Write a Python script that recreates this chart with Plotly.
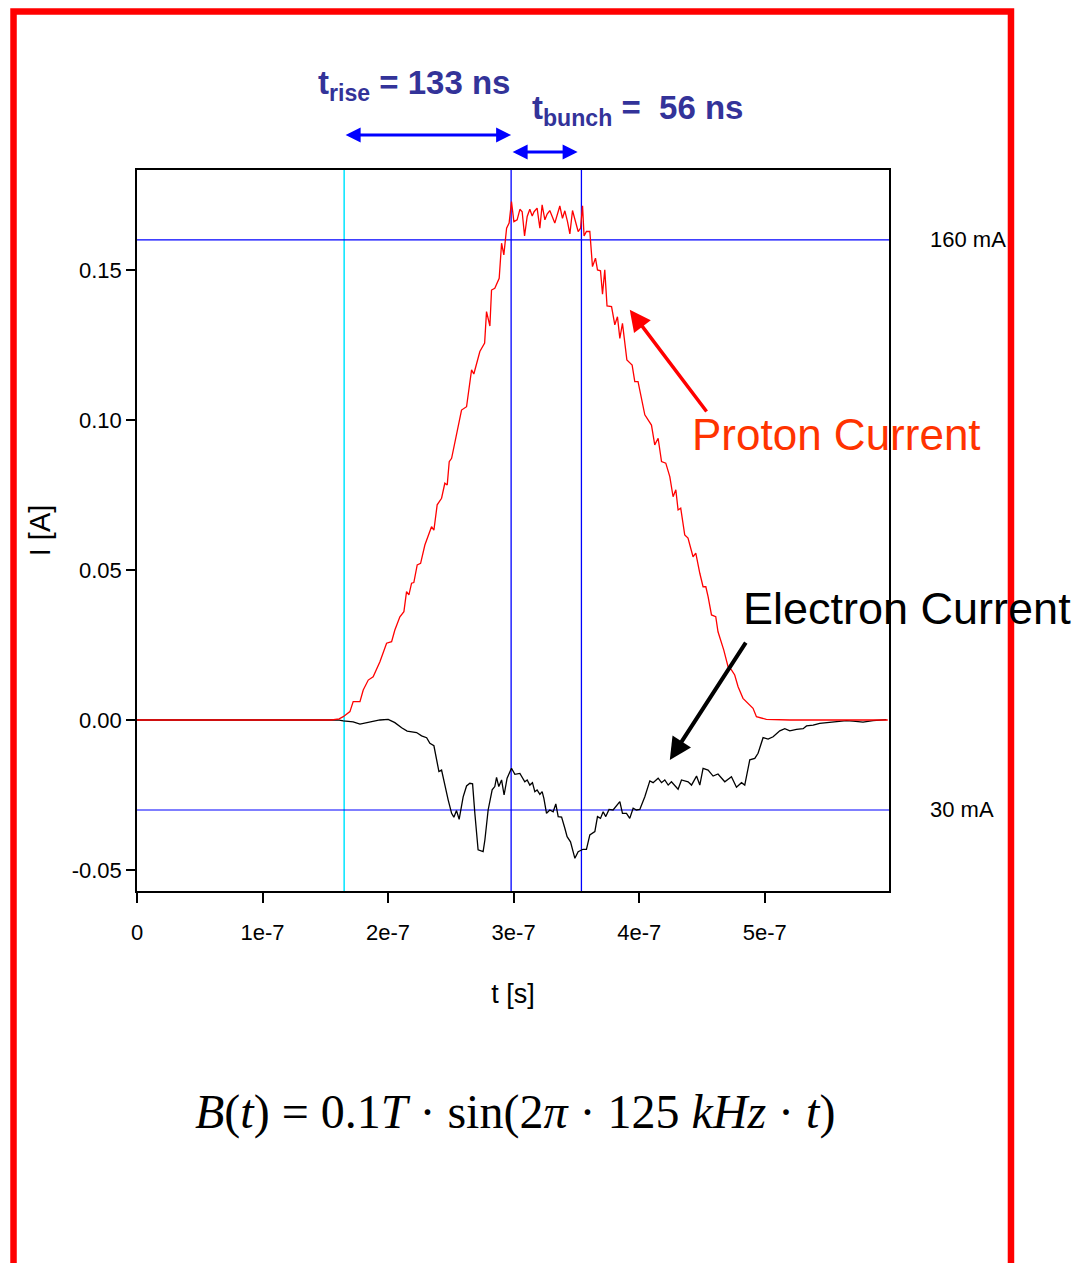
import plotly.graph_objects as go

# ---------------- data (time in ns, current in A) ----------------
proton_t_ns = [0, 155, 161, 164.3, 169.6, 172.2, 177.6, 180.2, 184.2, 188.1, 193.5, 198.8, 202.8, 205.4,
               209.4, 212.6, 214.7, 216.6, 218.7, 220.5, 223.2, 225.9, 229.3, 234.6, 236.5, 239.1, 242.6,
               245.2, 247.1, 248.7, 250.6, 255.0, 258.5, 262.5, 266.5, 268.3, 271.0, 273.1, 276.9, 278.4,
               281.1, 282.4, 285.0, 288.5, 290.4, 292.2, 294.4, 296.4, 298.3, 300.2, 302.8, 305.0, 306.8,
               308.7, 310.8, 312.9, 314.8, 316.3, 318.7, 320.9, 322.7, 324.9, 326.7, 328.8, 332.8, 336.8,
               338.9, 340.8, 342.9, 344.8, 346.9, 349.0, 351.4, 353.3, 354.9, 356.1, 358.0, 360.7, 362.8,
               365.2, 366.8, 369.2, 370.8, 372.6, 374.4, 378.0, 380.6, 382.7, 384.6, 386.7, 390.2, 394.4,
               396.5, 399.1, 401.8, 404.5, 409.8, 412.4, 415.1, 417.8, 421.2, 424.4, 427.0, 429.2, 431.0,
               433.1, 436.3, 438.9, 442.9, 445.1, 448.3, 450.9, 453.1, 454.9, 457.6, 461.0, 462.8, 467.4,
               470.8, 473.5, 476.1, 478.8, 482.7, 486.7, 490.7, 493.4, 497.4, 501.3, 520, 560, 598]
proton_I = [0, 0, 0.0004, 0.0011, 0.0028, 0.0061, 0.0061, 0.0100, 0.0133, 0.0144, 0.0194, 0.0256, 0.0261,
            0.0300, 0.0344, 0.0361, 0.0428, 0.0417, 0.0456, 0.0458, 0.0517, 0.0522, 0.0583, 0.0644, 0.0633,
            0.0717, 0.0739, 0.0789, 0.0783, 0.0861, 0.0872, 0.0956, 0.1033, 0.1044, 0.1167, 0.1153, 0.1200,
            0.1228, 0.1256, 0.1361, 0.1313, 0.1433, 0.1439, 0.1472, 0.1589, 0.1550, 0.1639, 0.1656, 0.1728,
            0.1661, 0.1667, 0.1702, 0.1694, 0.1613, 0.1678, 0.1702, 0.1680, 0.1694, 0.1706, 0.1639, 0.1717,
            0.1667, 0.1686, 0.1698, 0.1656, 0.1713, 0.1672, 0.1697, 0.1661, 0.1620, 0.1698, 0.1661, 0.1628,
            0.1639, 0.1714, 0.1613, 0.1628, 0.1628, 0.1511, 0.1539, 0.1500, 0.1497, 0.1419, 0.1500, 0.1380,
            0.1378, 0.1317, 0.1344, 0.1272, 0.1322, 0.1200, 0.1183, 0.1128, 0.1128, 0.1067, 0.1017, 0.0983,
            0.0917, 0.0939, 0.0861, 0.0856, 0.0811, 0.0744, 0.0767, 0.0700, 0.0706, 0.0617, 0.0606, 0.0544,
            0.0556, 0.0489, 0.0444, 0.0444, 0.0411, 0.0350, 0.0344, 0.0294, 0.0233, 0.0178, 0.0167, 0.0150,
            0.0111, 0.0072, 0.0056, 0.0039, 0.0011, 0.0006, 0.0002, 0, 0, 0]

electron_t_ns = [0, 160, 164.3, 172.2, 177.6, 182.9, 188.1, 193.5, 200.1, 205.4,
                 210.8, 215.2, 222.7, 226.7, 230.7, 233.3, 236.5, 238.6, 240.5, 242.6,
                 245.2, 247.9, 250.6, 252.4, 254.5, 256.6, 259.8, 262.5, 265.1, 267.3,
                 269.1, 271.7, 275.7, 277.1, 279.7, 282.9, 285.0, 286.4, 288.2, 290.4,
                 292.4, 294.8, 298.3, 301.0, 305.0, 308.9, 310.8, 312.9, 315.0, 316.9,
                 318.7, 320.9, 322.7, 324.1, 326.2, 328.8, 331.5, 333.6, 335.5, 338.2,
                 340.8, 342.6, 345.3, 348.8, 351.4, 355.3, 358.0, 360.7, 364.7, 366.8,
                 369.2, 371.3, 373.4, 376.0, 379.2, 381.9, 384.6, 386.7, 389.9, 392.5,
                 395.2, 397.8, 400.5, 404.5, 408.5, 411.1, 415.1, 417.8, 420.4, 423.1,
                 425.7, 431.0, 433.7, 439.0, 441.7, 445.7, 448.3, 450.9, 454.9, 458.9,
                 462.8, 468.2, 473.5, 477.5, 481.5, 484.1, 488.1, 492.1, 494.7, 498.7,
                 502.7, 506.7, 512.0, 516.0, 520.0, 525.3, 530.6, 533.3, 538.6, 543.8,
                 549.2, 557.1, 565.1, 570.4, 578.3, 586.3, 596.9]
electron_I = [0, 0, -0.0003, -0.0006, -0.0014, -0.0009, -0.0006, 0.0, 0.0002, -0.0009,
              -0.0026, -0.0037, -0.0042, -0.0053, -0.0059, -0.0078, -0.0086, -0.0133, -0.0172, -0.0167,
              -0.0222, -0.0267, -0.0311, -0.0324, -0.0302, -0.0331, -0.0256, -0.0220, -0.0211, -0.0213,
              -0.0311, -0.0433, -0.0439, -0.0400, -0.0300, -0.0233, -0.0222, -0.0191, -0.0222, -0.0200,
              -0.0250, -0.0194, -0.0161, -0.0181, -0.0178, -0.0206, -0.0200, -0.0217, -0.0209, -0.0239,
              -0.0233, -0.0248, -0.0239, -0.0261, -0.0311, -0.0300, -0.0306, -0.0280, -0.0322, -0.0324,
              -0.0361, -0.0389, -0.0406, -0.0461, -0.0439, -0.0431, -0.0431, -0.0383, -0.0372, -0.0322,
              -0.0328, -0.0306, -0.0322, -0.0298, -0.0300, -0.0287, -0.0272, -0.0311, -0.0311, -0.0328,
              -0.0294, -0.0300, -0.0298, -0.0256, -0.0203, -0.0209, -0.0194, -0.0209, -0.0200, -0.0217,
              -0.0206, -0.0231, -0.0200, -0.0206, -0.0217, -0.0187, -0.0217, -0.0161, -0.0167, -0.0187,
              -0.0180, -0.0206, -0.0189, -0.0224, -0.0209, -0.0217, -0.0133, -0.0128, -0.0111, -0.0059,
              -0.0064, -0.0056, -0.0036, -0.0029, -0.0036, -0.0031, -0.0029, -0.0020, -0.0017, -0.0011,
              -0.0009, -0.0006, -0.0002, -0.0004, -0.0007, -0.0002, 0.0001]

# marker lines
t_rise_start_ns = 165
t_bunch_start_ns = 298
t_bunch_end_ns = 354
level_lines_A = [0.16, -0.03]
level_labels = ["160 mA", "30 mA"]

x_tickvals = [0, 1e-7, 2e-7, 3e-7, 4e-7, 5e-7]
x_ticktext = ["0", "1e-7", "2e-7", "3e-7", "4e-7", "5e-7"]
y_tickvals = [-0.05, 0.0, 0.05, 0.10, 0.15]
y_ticktext = ["-0.05", "0.00", "0.05", "0.10", "0.15"]

ns = 1e-9
proton_t = [v * ns for v in proton_t_ns]
electron_t = [v * ns for v in electron_t_ns]

FONT = "Liberation Sans, Arial, sans-serif"

fig = go.Figure()
fig.add_trace(go.Scatter(x=electron_t, y=electron_I, mode="lines",
                         line=dict(color="black", width=1.3), showlegend=False))
fig.add_trace(go.Scatter(x=proton_t, y=proton_I, mode="lines",
                         line=dict(color="red", width=1.3), showlegend=False))

shapes = []
shapes.append(dict(type="line", xref="x", yref="paper", x0=t_rise_start_ns * ns, x1=t_rise_start_ns * ns,
                   y0=0, y1=1, line=dict(color="#00e5ff", width=1.5), layer="below"))
for tv in (t_bunch_start_ns, t_bunch_end_ns):
    shapes.append(dict(type="line", xref="x", yref="paper", x0=tv * ns, x1=tv * ns,
                       y0=0, y1=1, line=dict(color="#0000ff", width=1.3), layer="below"))
for lv in level_lines_A:
    shapes.append(dict(type="line", xref="paper", yref="y", x0=0, x1=1, y0=lv, y1=lv,
                       line=dict(color="#0000ff", width=1.2), layer="below"))
# red frame around the slide
shapes.append(dict(type="rect", xref="paper", yref="paper", x0=-0.1642, x1=1.1622, y0=-0.60, y1=1.2198,
                   line=dict(color="#ff0000", width=6.5), fillcolor="rgba(0,0,0,0)", layer="above"))

annotations = []
for lv, lab in zip(level_lines_A, level_labels):
    annotations.append(dict(xref="paper", yref="y", x=1.052, y=lv, text=lab, showarrow=False,
                            xanchor="left", yanchor="middle",
                            font=dict(family=FONT, size=22, color="black")))

TITLE_COL = "#333399"
annotations.append(dict(xref="paper", yref="paper", x=0.3684, y=1.118,
                        text="<b>t<sub>rise</sub> = 133 ns</b>", showarrow=False,
                        xanchor="center", yanchor="middle",
                        font=dict(family=FONT, size=33, color=TITLE_COL)))
annotations.append(dict(xref="paper", yref="paper", x=0.6662, y=1.083,
                        text="<b>t<sub>bunch</sub> =  56 ns</b>", showarrow=False,
                        xanchor="center", yanchor="middle",
                        font=dict(family=FONT, size=33, color=TITLE_COL)))
# double arrows
annotations.append(dict(xref="x", yref="paper", x=t_bunch_start_ns * ns, y=1.0485,
                        axref="x", ayref="pixel", ax=t_rise_start_ns * ns, ay=0,
                        text="", showarrow=True, arrowside="end+start", arrowhead=2, startarrowhead=2,
                        arrowsize=1.0, startarrowsize=1.0, arrowwidth=3, arrowcolor="#0000ff",
                        standoff=0, startstandoff=0))
annotations.append(dict(xref="x", yref="paper", x=351 * ns, y=1.025,
                        axref="x", ayref="pixel", ax=t_bunch_start_ns * ns, ay=0,
                        text="", showarrow=True, arrowside="end+start", arrowhead=2, startarrowhead=2,
                        arrowsize=1.0, startarrowsize=1.0, arrowwidth=3, arrowcolor="#0000ff",
                        standoff=0, startstandoff=0))
# Proton label + arrow
annotations.append(dict(xref="paper", yref="paper", x=0.9302, y=0.6325, text="Proton Current",
                        showarrow=False, xanchor="center", yanchor="middle",
                        font=dict(family=FONT, size=44, color="#ff3300")))
annotations.append(dict(xref="x", yref="y", x=392.5 * ns, y=0.1367, axref="x", ayref="y",
                        ax=454.6 * ns, ay=0.1023, text="", showarrow=True, arrowhead=2,
                        arrowsize=1.2, arrowwidth=3.5, arrowcolor="#ff0000", standoff=0))
# Electron label + arrow
annotations.append(dict(xref="paper", yref="paper", x=1.0233, y=0.3925, text="Electron Current",
                        showarrow=False, xanchor="center", yanchor="middle",
                        font=dict(family=FONT, size=45, color="black")))
annotations.append(dict(xref="x", yref="y", x=424.4 * ns, y=-0.0133, axref="x", ayref="y",
                        ax=485.7 * ns, ay=0.0263, text="", showarrow=True, arrowhead=2,
                        arrowsize=1.1, arrowwidth=4, arrowcolor="black", standoff=0))
# formula
annotations.append(dict(xref="paper", yref="paper", x=0.5027, y=-0.3065,
                        text="<i>B</i>(<i>t</i>) = 0.1<i>T</i> · sin(2<i>π</i> · 125 <i>kHz</i> · <i>t</i>)",
                        showarrow=False, xanchor="center", yanchor="middle",
                        font=dict(family="Liberation Serif, Times New Roman, serif", size=48, color="black")))

fig.update_layout(
    width=1073, height=1263,
    margin=dict(l=137, r=184, t=170, b=372, autoexpand=False),
    paper_bgcolor="white", plot_bgcolor="white",
    shapes=shapes, annotations=annotations,
    showlegend=False,
    font=dict(family=FONT, color="black"),
)
fig.update_xaxes(range=[0, 5.99e-7], tickmode="array", tickvals=x_tickvals, ticktext=x_ticktext,
                 ticks="outside", ticklen=10, tickwidth=1.5, tickcolor="black",
                 showline=True, linecolor="black", linewidth=1.5, mirror=True,
                 showgrid=False, zeroline=False, ticklabelstandoff=11,
                 tickfont=dict(family=FONT, size=22, color="black"),
                 title=dict(text="t [s]", font=dict(family=FONT, size=27, color="black"), standoff=40))
fig.update_yaxes(range=[-0.057, 0.1833], tickmode="array", tickvals=y_tickvals, ticktext=y_ticktext,
                 ticks="outside", ticklen=9, tickwidth=1.5, tickcolor="black",
                 showline=True, linecolor="black", linewidth=1.5, mirror=True,
                 showgrid=False, zeroline=False,
                 tickfont=dict(family=FONT, size=22, color="black"),
                 title=dict(text="I [A]", font=dict(family=FONT, size=29, color="black"), standoff=13))

fig.write_html("out.html")
